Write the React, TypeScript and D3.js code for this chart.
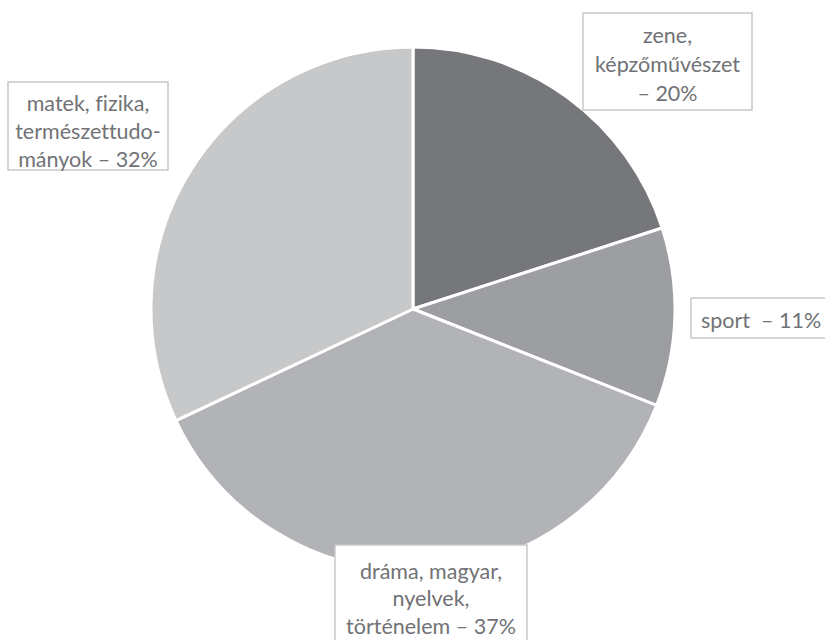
import React from "react";
import * as d3 from "d3";

const categories = ["zene, képzőművészet", "sport", "dráma, magyar, nyelvek, történelem", "matek, fizika, természettudományok"];
const values = [20, 11, 37, 32];
const labelLines = [
  ["zene,", "képzőművészet", "– 20%"],
  ["sport\u00a0 – 11%"],
  ["dráma, magyar,", "nyelvek,", "történelem – 37%"],
  ["matek, fizika,", "természettudo-", "mányok – 32%"],
];
const colors = ["#76777b", "#9d9ea1", "#b2b3b6", "#c7c8ca"];

// label box layout (x, y, w, h, first text line center y, line height)
const boxes = [
  { x: 583, y: 13, w: 169, h: 97, ty: 35, lh: 29 },
  { x: 691, y: 298, w: 140, h: 40, ty: 320, lh: 28 },
  { x: 335, y: 545, w: 192, h: 100, ty: 571, lh: 27.5 },
  { x: 8, y: 82, w: 160, h: 88, ty: 103, lh: 28 },
];

const W = 825, H = 640;
const cx = 413, cy = 309, R = 262;

export default function App() {
  const pie = d3.pie<number>().sort(null).value((d) => d);
  const arcs = pie(values);
  const arc = d3.arc<d3.PieArcDatum<number>>().innerRadius(0).outerRadius(R);
  return (
    <svg width={W} height={H} style={{ position: "absolute", left: 0, top: 0, background: "#fff", fontVariantLigatures: "none" }}
      fontFamily="Lato, 'Open Sans', sans-serif">
      <g transform={`translate(${cx},${cy})`}>
        {arcs.map((a, i) => (
          <path key={categories[i]} d={arc(a) || ""} fill={colors[i]} stroke="#fff" strokeWidth={3} strokeLinejoin="round" />
        ))}
      </g>
      {boxes.map((b, i) => {
        const lines = labelLines[i];
        return (
          <g key={i}>
            <rect x={b.x} y={b.y} width={b.w} height={b.h} fill="#fff" stroke="#c9c9c9" strokeWidth={1.5} />
            {lines.map((t, j) => (
              <text key={j} x={b.x + b.w / 2} y={b.ty + j * b.lh} dy="0.35em" textAnchor="middle"
                fontSize={21.5} fill="#717275">{t}</text>
            ))}
          </g>
        );
      })}
    </svg>
  );
}
